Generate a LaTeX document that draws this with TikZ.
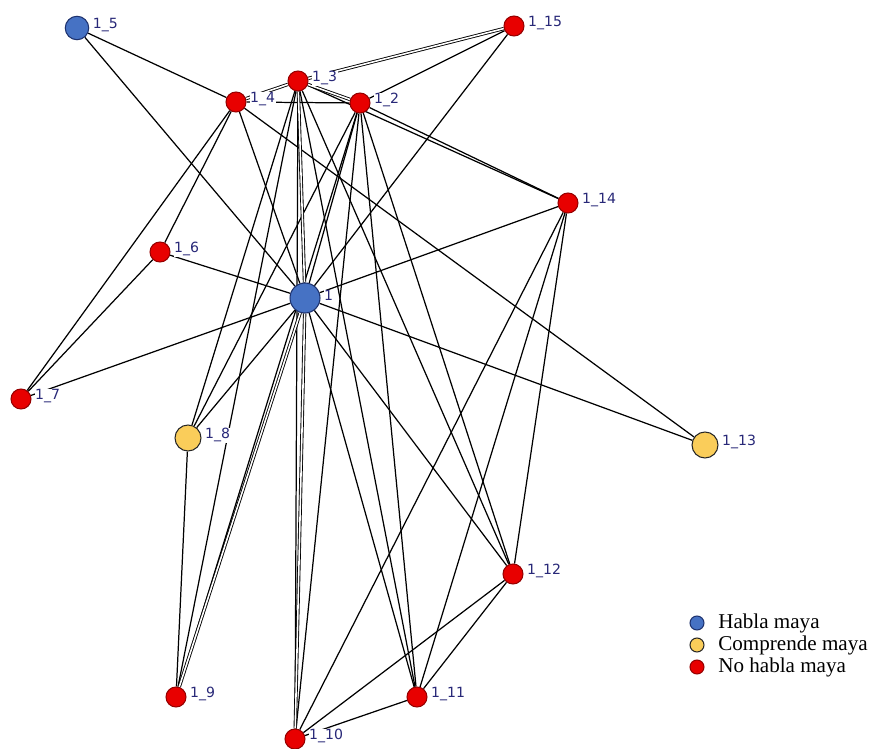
\documentclass[tikz,border=0pt]{standalone}
\usepackage{fontspec}
\setmainfont{Liberation Serif}
\newfontfamily\lblfont{DejaVu Sans}
\usetikzlibrary{backgrounds}
\definecolor{mayablue}{RGB}{70,114,196}
\definecolor{mayabluedark}{RGB}{30,50,110}
\definecolor{mayayellow}{RGB}{250,205,90}
\definecolor{mayared}{RGB}{232,0,0}
\definecolor{mayareddark}{RGB}{150,0,0}
\definecolor{mayalabel}{RGB}{40,40,120}

\begin{document}
\begin{tikzpicture}[x=0.02cm,y=-0.02cm,
  lbl/.style={text=mayalabel,font=\lblfont\fontsize{8}{9}\selectfont,inner sep=0.4pt,fill=white,label distance=1.5pt,yshift=1.5pt},
  persona/.style={circle,inner sep=0pt,line width=0.6pt},
  habla/.style={persona,fill=mayablue,draw=mayabluedark},
  comprende/.style={persona,fill=mayayellow,draw=black!85},
  nohabla/.style={persona,fill=mayared,draw=mayareddark,minimum size=0.4cm},
  enlace/.style={draw=black,line width=0.7pt},
  reciproco/.style={enlace,double,double distance=0.9pt,line width=0.5pt},
  leyenda/.style={anchor=west,inner sep=0pt,font=\fontsize{12}{12}\selectfont}]
\useasboundingbox (0,0) rectangle (875,749);

\node[habla,minimum size=0.6cm,label={[lbl]right:1}] (n1) at (305,298) {};
\node[nohabla,label={[lbl]right:1\_2}] (n2) at (360,103) {};
\node[nohabla,label={[lbl]right:1\_3}] (n3) at (298,81) {};
\node[nohabla,label={[lbl]right:1\_4}] (n4) at (236,102) {};
\node[habla,minimum size=0.47cm,label={[lbl]right:1\_5}] (n5) at (77,28) {};
\node[nohabla,label={[lbl]right:1\_6}] (n6) at (160,252) {};
\node[nohabla,label={[lbl]right:1\_7}] (n7) at (21,399) {};
\node[comprende,minimum size=0.52cm,label={[lbl]right:1\_8}] (n8) at (188,438) {};
\node[nohabla,label={[lbl]right:1\_9}] (n9) at (176,697) {};
\node[nohabla,label={[lbl]right:1\_10}] (n10) at (295,739) {};
\node[nohabla,label={[lbl]right:1\_11}] (n11) at (417,697) {};
\node[nohabla,label={[lbl]right:1\_12}] (n12) at (513,574) {};
\node[comprende,minimum size=0.52cm,label={[lbl]right:1\_13}] (n13) at (705,445) {};
\node[nohabla,label={[lbl]right:1\_14}] (n14) at (568,203) {};
\node[nohabla,label={[lbl]right:1\_15}] (n15) at (514,26) {};

\begin{scope}[on background layer]
\foreach \a/\b in {n5/n4,n5/n1,n15/n2,n15/n1,n4/n2,n3/n14,n2/n14,
  n4/n6,n4/n7,n4/n1,n4/n13,n6/n7,n6/n1,n7/n1,
  n3/n8,n3/n9,n3/n10,n3/n11,n3/n12,
  n2/n1,n2/n8,n2/n9,n2/n10,n2/n11,n2/n12,
  n1/n8,n1/n11,n1/n12,n1/n13,n1/n14,
  n14/n10,n14/n11,n14/n12,n8/n9,n12/n10,n12/n11,n11/n10}
  \draw[enlace] (\a) -- (\b);
\foreach \a/\b in {n15/n3,n3/n4,n3/n2,n3/n1,n1/n9,n1/n10}
  \draw[reciproco] (\a) -- (\b);
\end{scope}

\node[habla,minimum size=0.28cm] (lhabla) at (697,623) {};
\node[comprende,minimum size=0.28cm] (lcomprende) at (697,645) {};
\node[nohabla,minimum size=0.28cm] (lnohabla) at (697,667) {};
\node[leyenda] (thabla) at (718,623) {Habla maya};
\node[leyenda] (tcomprende) at (718,645) {Comprende maya};
\node[leyenda] (tnohabla) at (718,667) {No habla maya};
\end{tikzpicture}
\end{document}
